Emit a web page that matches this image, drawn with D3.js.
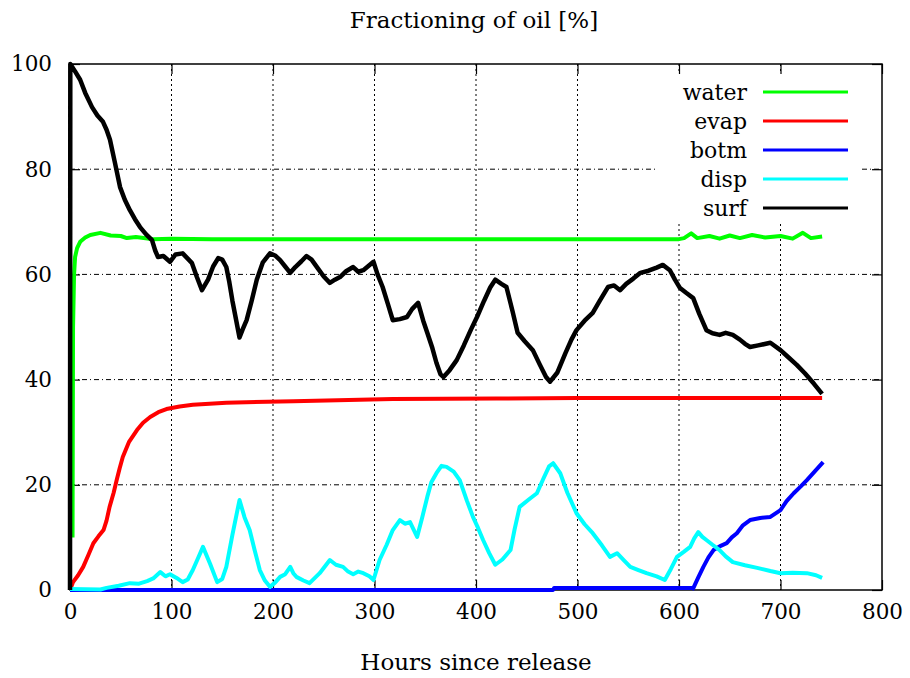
<!DOCTYPE html>
<html><head><meta charset="utf-8">
<script src="https://cdn.jsdelivr.net/npm/d3@7"></script>
<style>body{margin:0;background:#fff}svg{display:block}text{font-family:"DejaVu Serif",serif;fill:#000}</style>
</head><body><svg id="c" width="910" height="678"></svg>
<script>
const xTicks = [0,100,200,300,400,500,600,700,800];
const yTicks = [0,20,40,60,80,100];
const seriesNames = ["water","evap","botm","disp","surf"];
const seriesColors = ["#00ff00","#ff0000","#0000ff","#00ffff","#000000"];

const waterData = [[2.5,10],[3,50],[4,60],[5,63.3],[7,65],[10,66.2],[15,67],[20,67.5],[30,67.9],[40,67.4],[50,67.3],[56,66.9],[65,67.1],[82,66.7],[100,66.8],[140,66.7],[220,66.7],[300,66.7],[400,66.7],[500,66.7],[600,66.7],[605,66.9],[612,67.8],[618,66.9],[630,67.3],[640,66.8],[650,67.4],[660,66.9],[672,67.5],[685,67.0],[700,67.3],[712,66.8],[722,67.9],[730,66.9],[741,67.2]];
const evapData = [[0,0],[3,1.5],[8,2.8],[13,4.4],[18,6.6],[23,8.9],[28,10.2],[33,11.4],[36,13.2],[39,15.8],[43,18.5],[46,20.9],[49,23.2],[52,25.3],[58,28.1],[66,30.4],[72,31.8],[79,32.9],[87,33.8],[95,34.4],[108,34.9],[121,35.2],[154,35.6],[220,35.9],[318,36.3],[420,36.4],[500,36.5],[600,36.5],[741,36.5]];
const botmData = [[0,0],[476,0],[477,0.4],[612,0.4],[614,0.3],[619,2.4],[624,4.4],[629,6.2],[634,7.6],[640,8.3],[647,8.9],[652,10.0],[657,10.8],[663,12.3],[670,13.3],[680,13.7],[690,13.9],[700,15.2],[706,16.9],[713,18.4],[720,19.7],[726,20.9],[734,22.6],[742,24.3]];
const dispData = [[0,0.2],[30,0.1],[36,0.4],[48,0.8],[59,1.3],[68,1.2],[76,1.7],[82,2.2],[89,3.4],[94,2.6],[98.5,3.0],[105,2.3],[111,1.5],[116,2.0],[121,3.8],[126,6.0],[131,8.2],[138,5.0],[145,1.5],[150,2.1],[154,4.4],[160,10.5],[167,17.1],[172,13.8],[177,11.4],[182,7.5],[187,3.8],[192,1.8],[197,0.6],[202,1.4],[207,2.5],[212,3.0],[217,4.4],[220,3.2],[223,2.5],[230,1.8],[236,1.3],[246,3.2],[256,5.7],[262,4.8],[269,4.4],[274,3.5],[279,3.0],[284,3.5],[289,3.2],[295,2.6],[299,1.9],[305,5.7],[312,8.6],[318,11.4],[325,13.3],[330,12.6],[335,12.9],[342,10.1],[347,13.8],[352,17.7],[356,20.5],[361,22.2],[366,23.6],[371,23.4],[378,22.5],[384,20.9],[391,17.0],[397,13.9],[402,11.8],[407,9.5],[413,7.0],[419,4.8],[426,5.8],[434,7.6],[438,11.5],[443,15.8],[452,17.2],[460,18.4],[466,21.0],[472,23.5],[476,24.1],[483,22.2],[490,18.5],[499,14.6],[507,12.5],[515,10.8],[524,8.5],[532,6.3],[539,7.0],[546,5.6],[552,4.4],[560,3.8],[568,3.2],[578,2.6],[586,1.9],[592,4.0],[598,6.3],[605,7.3],[611,8.2],[615,9.8],[619,11.0],[623,10.1],[627,9.5],[633,8.6],[640,7.6],[646,6.4],[653,5.3],[665,4.7],[677,4.2],[690,3.6],[700,3.2],[712,3.3],[726,3.2],[735,2.8],[741,2.3]];
const surfData = [[0,0],[0.3,100],[5,98.6],[10,97],[15,94.5],[21.7,91.8],[27,90.2],[32.5,89],[36,87.5],[39.4,85.6],[44.3,81.2],[49.3,76.6],[54,74.2],[59,72.2],[64,70.5],[69,69],[75,67.6],[80.8,66.5],[84,64.5],[86.7,63.3],[92,63.5],[98.5,62.4],[104,63.8],[111,64.0],[115,63.2],[120,62.2],[125,59.5],[130,57.0],[136,59.0],[141,61.5],[146,63.1],[150,62.8],[154,61.4],[157,58.5],[160,55.0],[164,51.0],[167,48.0],[170,49.5],[174,51.3],[179,55.0],[184,59.0],[190,62.3],[197,64.0],[202,63.6],[207,62.7],[212,61.5],[217,60.3],[222,61.4],[228,62.5],[233,63.5],[238,62.8],[244,61.2],[250,59.6],[256,58.4],[261,59.0],[266,59.5],[272,60.6],[279,61.4],[284,60.5],[289,60.8],[294,61.6],[299,62.4],[303,60.0],[308,57.6],[313,54.5],[318,51.3],[325,51.5],[332,51.9],[337,53.4],[343,54.6],[348,51.2],[352,48.9],[357,46.0],[361,43.2],[365,41.0],[368,40.5],[374,41.8],[381,43.7],[388,46.5],[395,49.5],[401,51.9],[408,55.0],[414,57.5],[419,59.0],[425,58.2],[430,57.6],[436,53.0],[441,48.9],[448,47.3],[456,45.6],[463,42.8],[469,40.5],[473,39.6],[480,41.3],[488,45.0],[494,47.6],[499,49.4],[507,51.2],[515,52.7],[522,55.0],[530,57.6],[536,57.9],[542,57.0],[548,58.2],[555,59.2],[562,60.3],[570,60.7],[578,61.3],[584,61.8],[591,60.8],[596,59.0],[601,57.4],[607,56.5],[614,55.5],[620,52.5],[627,49.4],[633,48.8],[640,48.5],[646,48.9],[653,48.5],[660,47.6],[665,46.8],[670,46.2],[678,46.5],[690,47.0],[700,45.6],[708,44.2],[716,42.8],[724,41.2],[733,39.2],[741,37.3]];
const allData = [waterData, evapData, botmData, dispData, surfData];

const svg = d3.select("#c");
const M = {l:70, r:882, t:64, b:590};
const x = d3.scaleLinear().domain([0,800]).range([M.l, M.r]);
const y = d3.scaleLinear().domain([0,100]).range([M.b, M.t]);

// grid
const g = svg.append("g");
g.selectAll(".vg").data(xTicks.slice(1,-1)).join("line")
  .attr("x1",d=>x(d)).attr("x2",d=>x(d)).attr("y1",M.t).attr("y2",M.b)
  .attr("stroke","#000").attr("stroke-width",1).attr("stroke-dasharray","2,3");
g.selectAll(".hg").data(yTicks.slice(1,-1)).join("line")
  .attr("x1",M.l).attr("x2",M.r).attr("y1",d=>y(d)).attr("y2",d=>y(d))
  .attr("stroke","#000").attr("stroke-width",1).attr("stroke-dasharray","5,3,1,3");

// legend background
svg.append("rect").attr("x",655).attr("y",72).attr("width",207).attr("height",150).attr("fill","#fff");

// axes with inner ticks
const tl = 10;
const axB = d3.axisBottom(x).tickValues(xTicks).tickSize(-tl).tickPadding(14).tickFormat(d3.format("d"));
const axT = d3.axisTop(x).tickValues(xTicks).tickSize(-tl).tickFormat("");
const axL = d3.axisLeft(y).tickValues(yTicks).tickSize(-tl).tickPadding(18).tickFormat(d3.format("d"));
const axR = d3.axisRight(y).tickValues(yTicks).tickSize(-tl).tickFormat("");
function style(sel){ sel.select(".domain").remove(); sel.selectAll(".tick line").attr("stroke","#000").attr("stroke-width",1.2); sel.selectAll("text").style("font-family","DejaVu Serif").style("font-size","21.5px").attr("fill","#000"); }
svg.append("g").attr("transform",`translate(0,${M.b})`).call(axB).call(style);
svg.append("g").attr("transform",`translate(0,${M.t})`).call(axT).call(style);
svg.append("g").attr("transform",`translate(${M.l},0)`).call(axL).call(style);
svg.append("g").attr("transform",`translate(${M.r},0)`).call(axR).call(style);
svg.append("rect").attr("x",M.l).attr("y",M.t).attr("width",M.r-M.l).attr("height",M.b-M.t)
  .attr("fill","none").attr("stroke","#000").attr("stroke-width",1.5);

// series
const line = d3.line().x(d=>x(d[0])).y(d=>y(d[1]));
allData.forEach((data,i)=>{
  svg.append("path").datum(data).attr("d",line).attr("fill","none")
    .attr("stroke",seriesColors[i]).attr("stroke-width",i===4?4.5:4).attr("stroke-linejoin","round");
});

// legend
seriesNames.forEach((n,i)=>{
  const yy = 92 + i*29;
  svg.append("text").attr("x",747).attr("y",yy).attr("dy","0.35em").attr("text-anchor","end")
    .style("font-size","22px").text(n);
  svg.append("line").attr("x1",763).attr("x2",848).attr("y1",yy).attr("y2",yy)
    .attr("stroke",seriesColors[i]).attr("stroke-width",3);
});

// titles
svg.append("text").attr("x",474).attr("y",28).attr("text-anchor","middle").style("font-size","23px").text("Fractioning of oil [%]");
svg.append("text").attr("x",476).attr("y",670).attr("text-anchor","middle").style("font-size","23px").text("Hours since release");
</script></body></html>
